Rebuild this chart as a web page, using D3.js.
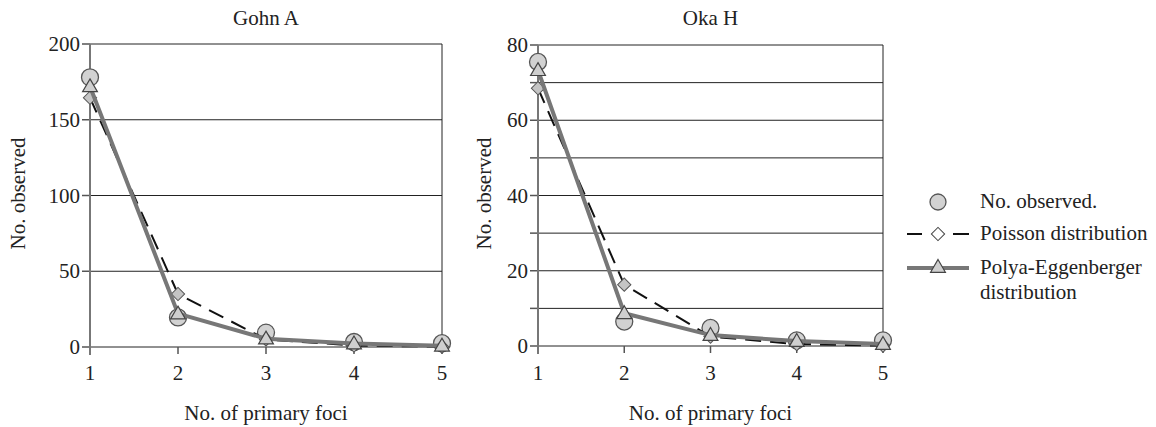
<!DOCTYPE html>
<html lang="en">
<head>
  <meta charset="UTF-8">
  <title>Primary foci</title>
  <script src="https://d3js.org/d3.v7.min.js"></script>
  <style>
    body { background: #fff; margin: 0; }
    svg { display: block; }
    svg text { font-family: "Liberation Serif", "DejaVu Serif", "Times New Roman", serif; fill: #222; }
    .grid { stroke: #222; stroke-width: 1; }
    .yaxis { stroke: #777; stroke-width: 2; }
    .tick { stroke: #555; stroke-width: 1.5; }
  </style>
</head>
<body>
  <svg width="1156" height="427"></svg>

  <script>
const svg = d3.select("svg");
const FONT = "'Liberation Serif', 'DejaVu Serif', serif";

// data
const foci = [1, 2, 3, 4, 5];

const gohnObserved = [178, 19.5, 9.5, 3.3, 2.5];
const gohnPoisson = [164.5, 35, 5, 1, 0.2];
const gohnPolya = [172, 22, 5.5, 2.3, 0.8];

const okaObserved = [75.5, 6.5, 4.8, 1.5, 1.5];
const okaPoisson = [68.5, 16.3, 2.5, 0.5, 0.1];
const okaPolya = [73.3, 8.7, 2.9, 1.3, 0.5];

const seriesNames = ["No. observed.", "Poisson distribution", ["Polya-Eggenberger", "distribution"]];

const panels = [
  { title: "Gohn A", obs: gohnObserved, poi: gohnPoisson, pol: gohnPolya,
    x0: 90, x1: 442, yTop: 44, yBot: 347, max: 200, grid: 50, label: 50, titleX: 18 },
  { title: "Oka H", obs: okaObserved, poi: okaPoisson, pol: okaPolya,
    x0: 538, x1: 883, yTop: 45, yBot: 346, max: 80, grid: 10, label: 20, titleX: 484 }
];

const tri = d3.symbol().type(d3.symbolTriangle).size(95);
// square turned 45 degrees gives an even diamond
const dia = d3.symbol().type(d3.symbolSquare).size(88);

function txt(sel) {
  return sel.attr("font-family", FONT).attr("font-size", 21);
}

function drawPanel(p) {
  const x = d3.scaleLinear().domain([1, 5]).range([p.x0, p.x1]);
  const y = d3.scaleLinear().domain([0, p.max]).range([p.yBot, p.yTop]);
  const g = svg.append("g");

  const gridVals = d3.range(0, p.max + 0.001, p.grid);

  // gridlines
  g.selectAll(".grid").data(gridVals).enter().append("line")
    .attr("class", "grid")
    .attr("x1", p.x0).attr("x2", p.x1)
    .attr("y1", d => y(d)).attr("y2", d => y(d));

  // right border
  g.append("line").attr("class", "grid")
    .attr("x1", p.x1).attr("x2", p.x1).attr("y1", p.yTop).attr("y2", p.yBot);

  // y ticks
  g.selectAll(".yt").data(gridVals).enter().append("line")
    .attr("class", "tick")
    .attr("x1", p.x0 - 8).attr("x2", p.x0)
    .attr("y1", d => y(d)).attr("y2", d => y(d));

  g.selectAll(".ylab").data(gridVals.filter(d => d % p.label === 0)).enter().append("text")
    .attr("x", p.x0 - 10).attr("y", d => y(d) + 7)
    .attr("text-anchor", "end").call(txt)
    .text(d => d);

  // x ticks
  g.selectAll(".xt").data(foci).enter().append("line")
    .attr("class", "tick")
    .attr("x1", d => x(d)).attr("x2", d => x(d))
    .attr("y1", p.yBot).attr("y2", p.yBot + 7);

  g.selectAll(".xlab").data(foci).enter().append("text")
    .attr("x", d => x(d)).attr("y", 380)
    .attr("text-anchor", "middle").call(txt)
    .text(d => d);

  // y axis line
  g.append("line").attr("class", "yaxis")
    .attr("x1", p.x0).attr("x2", p.x0).attr("y1", p.yTop).attr("y2", p.yBot + 8);

  // titles
  g.append("text").attr("x", (p.x0 + p.x1) / 2).attr("y", 25)
    .attr("text-anchor", "middle").call(txt).text(p.title);
  g.append("text").attr("x", (p.x0 + p.x1) / 2).attr("y", 420)
    .attr("text-anchor", "middle").call(txt).text("No. of primary foci");
  g.append("text")
    .attr("transform", `translate(${p.titleX + 7},${(p.yTop + p.yBot) / 2 - 2}) rotate(-90)`)
    .attr("text-anchor", "middle").call(txt).text("No. observed");

  // observed circles
  g.selectAll(".obs").data(p.obs).enter().append("circle")
    .attr("cx", (d, i) => x(foci[i])).attr("cy", d => y(d)).attr("r", 8.5)
    .attr("fill", "#d2d2d2").attr("stroke", "#555").attr("stroke-width", 1.3);

  // poisson
  const line = d3.line().x((d, i) => x(foci[i])).y(d => y(d));
  g.append("path").datum(p.poi).attr("d", line)
    .attr("fill", "none").attr("stroke", "#111").attr("stroke-width", 2)
    .attr("stroke-dasharray", "16,9");
  g.selectAll(".poi").data(p.poi).enter().append("path")
    .attr("d", dia)
    .attr("transform", (d, i) => `translate(${x(foci[i])},${y(d)}) rotate(45)`)
    .attr("fill", "#c4c4c4").attr("stroke", "#555").attr("stroke-width", 1);

  // polya
  g.append("path").datum(p.pol).attr("d", line)
    .attr("fill", "none").attr("stroke", "#777").attr("stroke-width", 4);
  g.selectAll(".pol").data(p.pol).enter().append("path")
    .attr("d", tri)
    .attr("transform", (d, i) => `translate(${x(foci[i])},${y(d) + 1})`)
    .attr("fill", "#cfcfcf").attr("stroke", "#444").attr("stroke-width", 1.2);
}

panels.forEach(drawPanel);

// legend
const lg = svg.append("g");
const lx = 938, textX = 980;
const rows = [202, 234, 268];

lg.append("circle").attr("cx", lx).attr("cy", rows[0]).attr("r", 8)
  .attr("fill", "#d2d2d2").attr("stroke", "#555").attr("stroke-width", 1.3);

lg.append("line").attr("x1", 907).attr("x2", 969).attr("y1", rows[1]).attr("y2", rows[1])
  .attr("stroke", "#111").attr("stroke-width", 2).attr("stroke-dasharray", "15,31,16");
lg.append("path").attr("d", dia).attr("transform", `translate(${lx},${rows[1]}) rotate(45)`)
  .attr("fill", "#fff").attr("stroke", "#444").attr("stroke-width", 1);

lg.append("line").attr("x1", 907).attr("x2", 969).attr("y1", rows[2]).attr("y2", rows[2])
  .attr("stroke", "#777").attr("stroke-width", 4);
lg.append("path").attr("d", tri).attr("transform", `translate(${lx},${rows[2]})`)
  .attr("fill", "#cfcfcf").attr("stroke", "#444").attr("stroke-width", 1.2);

lg.selectAll(".lt").data(seriesNames).enter().append("text")
  .attr("x", textX).attr("y", (d, i) => rows[i] + 6)
  .call(txt)
  .each(function(d) {
    const t = d3.select(this);
    if (Array.isArray(d)) {
      d.forEach((s, k) => t.append("tspan").attr("x", textX).attr("dy", k ? 25 : 0).text(s));
    } else {
      t.text(d);
    }
  });
  </script>
</body>
</html>
